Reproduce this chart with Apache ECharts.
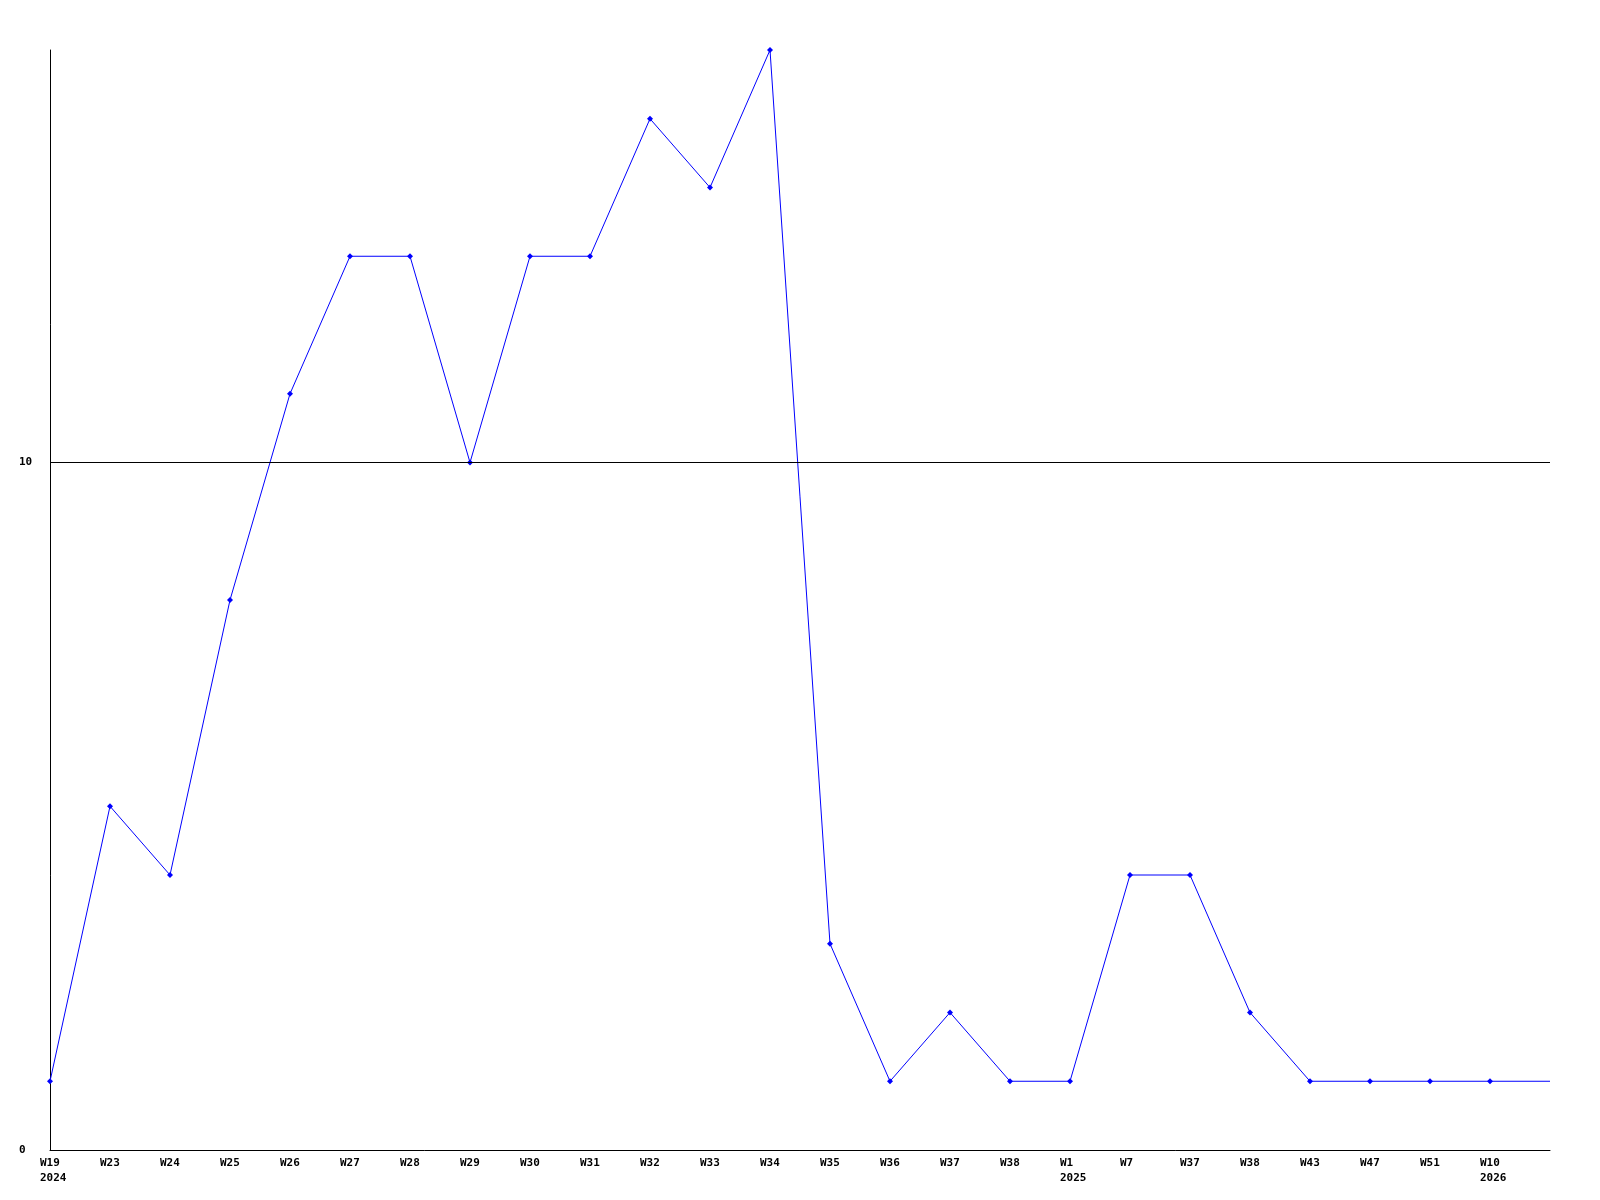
<!DOCTYPE html>
<html>
<head>
<meta charset="utf-8">
<script src="https://cdn.jsdelivr.net/npm/echarts@6/dist/echarts.min.js"></script>
<style>html,body{margin:0;padding:0;background:#fff}#c{width:1600px;height:1200px}</style>
</head>
<body>
<div id="c"></div>
<script>
var weeks = ['W19','W23','W24','W25','W26','W27','W28','W29','W30','W31','W32','W33','W34','W35','W36','W37','W38','W1','W7','W37','W38','W43','W47','W51','W10',''];
var years = ['2024','','','','','','','','','','','','','','','','','2025','','','','','','','2026',''];
var values = [1,5,4,8,11,13,13,10,13,13,15,14,16,3,1,2,1,1,4,4,2,1,1,1,1,1];
var yTicks = [0, 10];

var FONT = 'DejaVu Sans Mono';
var chart = echarts.init(document.getElementById('c'));
var seriesData = values.map(function (v, i) {
  return i === values.length - 1 ? { value: v, symbol: 'none' } : v;
});
chart.setOption({
  animation: false,
  grid: { left: 50, right: 50, top: 50, bottom: 50 },
  xAxis: {
    type: 'category',
    data: weeks.map(function (w, i) { return i + ''; }),
    boundaryGap: false,
    axisLine: { lineStyle: { color: '#000', width: 1 } },
    axisTick: { show: false },
    splitLine: { show: false },
    axisLabel: {
      interval: 0,
      margin: 6,
      formatter: function (v, i) {
        var s = '{a|' + weeks[i] + '}';
        if (years[i]) s += '\n{a|' + years[i] + '}';
        return s;
      },
      rich: {
        a: { width: 20, align: 'left', fontFamily: FONT, fontWeight: 'bold', fontSize: 11, color: '#000', lineHeight: 15 }
      }
    }
  },
  yAxis: {
    type: 'value',
    min: 0,
    max: 16,
    interval: 10,
    axisLine: { show: true, lineStyle: { color: '#000', width: 1 } },
    axisTick: { show: false },
    splitLine: { show: false },
    axisLabel: {
      align: 'left',
      margin: 31,
      fontFamily: FONT,
      fontWeight: 'bold',
      fontSize: 11,
      color: '#000',
      formatter: function (v) { return yTicks.indexOf(v) >= 0 ? String(v) : ''; }
    }
  },
  series: [{
    type: 'line',
    data: seriesData,
    symbol: 'diamond',
    symbolSize: 6,
    showAllSymbol: true,
    lineStyle: { color: '#0000ff', width: 1 },
    itemStyle: { color: '#0000ff' },
    markLine: {
      silent: true,
      symbol: 'none',
      label: { show: false },
      lineStyle: { color: '#000', width: 1, type: 'solid' },
      data: [{ yAxis: yTicks[1] }]
    }
  }]
});
</script>
</body>
</html>
